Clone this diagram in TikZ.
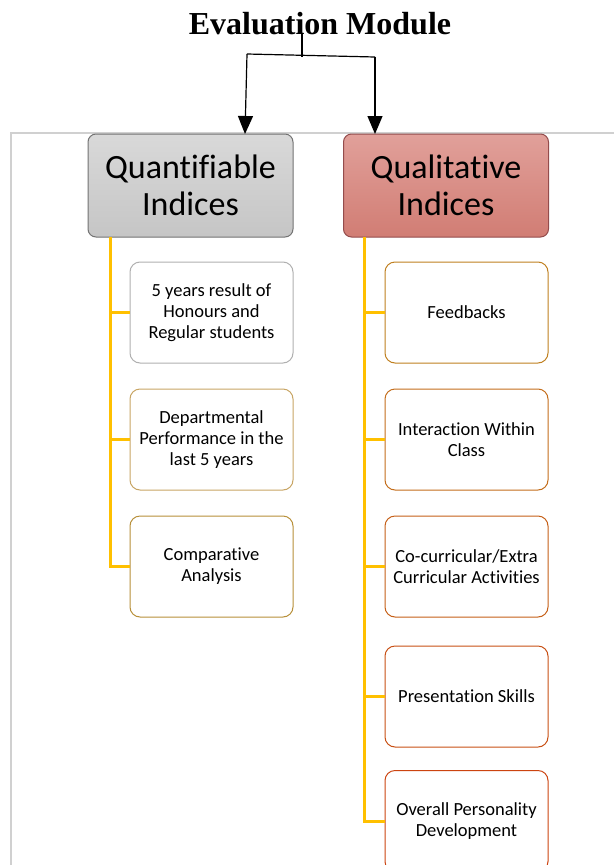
\documentclass[tikz,border=0pt]{standalone}
\usepackage{fontspec}
\setmainfont{Carlito}[Ligatures=CommonOff]
\newfontfamily\titlefont{Liberation Serif}
\usetikzlibrary{arrows.meta}
\definecolor{frame}{HTML}{D0D0D0}
\definecolor{yline}{HTML}{FFC000}
\tikzset{
  head/.style={rounded corners=8pt, minimum width=205pt, minimum height=103pt, align=center, font=\fontsize{34}{37}\selectfont, line width=1pt},
  child/.style={rounded corners=10pt, minimum width=163pt, minimum height=101pt, align=center, font=\fontsize{18.5}{21}\selectfont, line width=1pt, fill=white},
  ylink/.style={yline, line width=3pt},
  arr/.style={line width=1.2pt, -{Triangle[width=15pt,length=18pt]}}
}
\begin{document}
\begin{tikzpicture}[x=1pt,y=-1pt]
\useasboundingbox (0,0) rectangle (614,865);
\fill[white] (0,0) rectangle (614,865);
% frame
\draw[frame, line width=2pt] (11,865) -- (11,133) -- (614,133);
% title
\node[font=\titlefont\bfseries\fontsize{32}{36}\selectfont] (title) at (320,24) {Evaluation Module};
\coordinate (t0) at (302,34);
\coordinate (t1) at (302,57);
\coordinate (lj) at (247,54);
\coordinate (rj) at (375,57);
\draw[line width=1.2pt] (t0) -- (t1);
\draw[line width=1.2pt] (lj) -- (rj);
% headers
\node[head, draw=gray!90!black, top color=gray!30, bottom color=gray!45] (qn) at (190.5,185.5) {Quantifiable\\Indices};
\node[head, draw=red!40!black!70, top color={rgb,255:red,225;green,160;blue,154}, bottom color={rgb,255:red,209;green,125;blue,116}] (ql) at (446,185.5) {Qualitative\\Indices};
\coordinate (la) at (245,134);
\coordinate (ra) at (375,134);
\draw[arr] (lj) -- (la);
\draw[arr] (rj) -- (ra);
% left children
\node[child, draw={rgb,255:red,176;green,176;blue,176}] (a1) at (211.5,312.5) {5 years result of\\Honours and\\Regular students};
\node[child, draw={rgb,255:red,200;green,165;blue,100}] (a2) at (211.5,439.5) {Departmental\\Performance in the\\last 5 years};
\node[child, draw={rgb,255:red,184;green,144;blue,58}] (a3) at (211.5,566.5) {Comparative\\Analysis};
% right children
\node[child, draw={rgb,255:red,192;green,128;blue,32}] (b1) at (466.5,312.5) {Feedbacks};
\node[child, draw={rgb,255:red,196;green,110;blue,28}] (b2) at (466.5,439.5) {Interaction Within\\Class};
\node[child, draw={rgb,255:red,198;green,96;blue,24}] (b3) at (466.5,566.5) {Co-curricular/Extra\\Curricular Activities};
\node[child, draw={rgb,255:red,200;green,80;blue,20}] (b4) at (466.5,696.5) {Presentation Skills};
\node[child, draw={rgb,255:red,204;green,68;blue,16}] (b5) at (466.5,821) {Overall Personality\\Development};
% yellow connectors
\coordinate (lx) at (110,237);
\coordinate (rx) at (364,237);
\draw[ylink] (lx) |- (a3.west);
\draw[ylink] (a1.west) -- (a1.west -| lx);
\draw[ylink] (a2.west) -- (a2.west -| lx);
\draw[ylink] (rx) |- (b5.west);
\draw[ylink] (b1.west) -- (b1.west -| rx);
\draw[ylink] (b2.west) -- (b2.west -| rx);
\draw[ylink] (b3.west) -- (b3.west -| rx);
\draw[ylink] (b4.west) -- (b4.west -| rx);
\end{tikzpicture}
\end{document}
